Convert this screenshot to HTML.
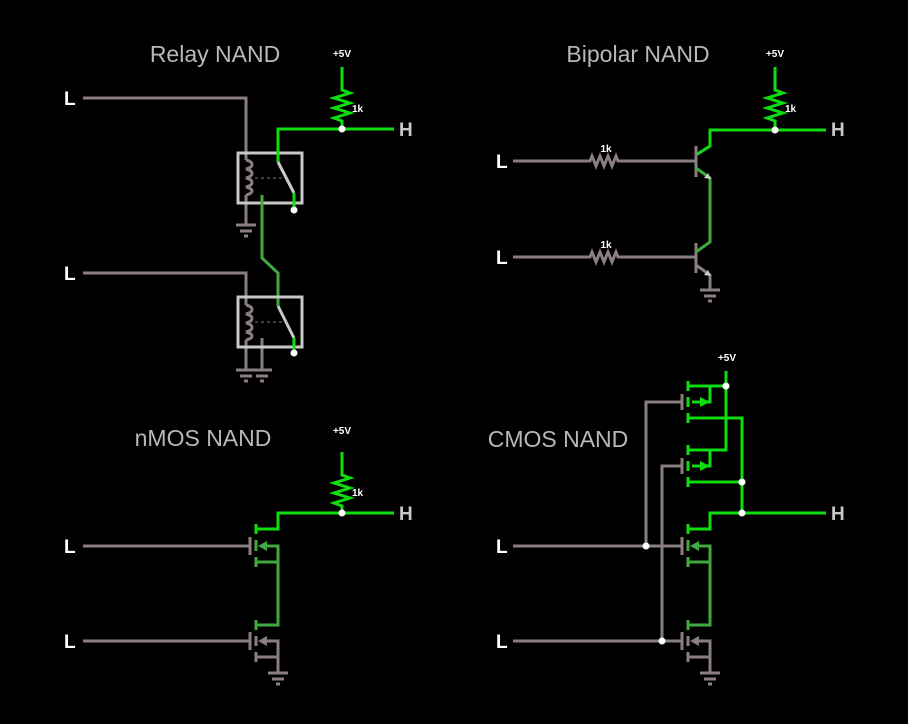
<!DOCTYPE html>
<html><head><meta charset="utf-8"><style>
html,body{margin:0;padding:0;background:#000;}
svg{display:block;}
text{font-family:"Liberation Sans",sans-serif;}
.t{fill:#b8b8b8;font-size:23px;}
.l{fill:#fff;font-size:19px;font-weight:bold;}
.h{fill:#c8c8c8;font-size:19px;font-weight:bold;}
.s{fill:#fff;font-size:10px;font-weight:bold;}
.g{stroke:#8a7e7e;}
.G{stroke:#10dd10;}
.d{stroke:#3faa3f;}
</style></head><body>
<svg width="908" height="724" viewBox="0 0 908 724" xmlns="http://www.w3.org/2000/svg">
<text class="t" x="215" y="62" text-anchor="middle">Relay NAND</text>
<text class="t" x="638" y="62" text-anchor="middle">Bipolar NAND</text>
<text class="t" x="203" y="446" text-anchor="middle">nMOS NAND</text>
<text class="t" x="558" y="447" text-anchor="middle">CMOS NAND</text>
<text class="l" x="64" y="105">L</text>
<text class="l" x="64" y="280">L</text>
<text class="l" x="64" y="553">L</text>
<text class="l" x="64" y="648">L</text>
<text class="l" x="496" y="168">L</text>
<text class="l" x="496" y="264">L</text>
<text class="l" x="496" y="553">L</text>
<text class="l" x="496" y="648">L</text>
<text class="h" x="399" y="136">H</text>
<text class="h" x="831" y="136">H</text>
<text class="h" x="399" y="520">H</text>
<text class="h" x="831" y="520">H</text>
<text class="s" x="342" y="57" text-anchor="middle">+5V</text>
<text class="s" x="775" y="57" text-anchor="middle">+5V</text>
<text class="s" x="342" y="434" text-anchor="middle">+5V</text>
<text class="s" x="727" y="361" text-anchor="middle">+5V</text>
<text class="s" x="352" y="112">1k</text>
<text class="s" x="785" y="112">1k</text>
<text class="s" x="352" y="496">1k</text>
<text class="s" x="606" y="152" text-anchor="middle">1k</text>
<text class="s" x="606" y="248" text-anchor="middle">1k</text>

<g fill="none" stroke-width="3">
<!-- RELAY -->
<path class="g" d="M83 98H246V160M246 195V225"/>
<path class="g" d="M246 160c8 2 8 7 0 9c8 2 8 7 0 9c8 2 8 7 0 9c8 2 8 6 0 8"/>
<rect x="238" y="153" width="64" height="50" stroke="#c8c8c8"/>
<path d="M255 178H282" stroke="#555" stroke-width="1.5" stroke-dasharray="3,3"/>
<path class="G" d="M342 67V90l8 3-16 5 16 5-16 5 16 5-16 5 8 3V129M278 162V129H394"/>
<path d="M278 162L294 193" stroke="#c8c8c8"/>
<path class="G" d="M294 193V210"/>
<path class="d" d="M262 195V258L278 273V306"/>
<path d="M236 225H256M240 231H252M244 236H248M236 370H256M240 376H252M244 381H248M252 370H272M256 376H268M260 381H264" class="g"/>
<path class="g" d="M83 273H246V305M246 340V370M262 338V370"/>
<path class="g" d="M246 305c8 2 8 7 0 9c8 2 8 7 0 9c8 2 8 7 0 9c8 2 8 6 0 8"/>
<rect x="238" y="297" width="64" height="50" stroke="#c8c8c8"/>
<path d="M255 322H282" stroke="#555" stroke-width="1.5" stroke-dasharray="3,3"/>
<path d="M278 306L294 338" stroke="#c8c8c8"/>
<path class="G" d="M294 338V353"/>

<!-- BIPOLAR -->
<path class="G" d="M775 67V90l8 3-16 5 16 5-16 5 16 5-16 5 8 3V130M696 155L710 146V130H826"/>
<path class="g" d="M513 161H590l2-5 4 10 4-10 4 10 4-10 4 10 4-10 2 5H696M696 146V177"/>
<path class="g" d="M513 257H590l2-5 4 10 4-10 4 10 4-10 4 10 4-10 2 5H696M696 243V273"/>
<path class="d" d="M696 168L710 178V242L696 252"/>
<path class="g" d="M696 265L710 275V290M700 290H720M704 296H716M708 301H712"/>
<path d="M711 179l-7-1 4-5z M711 276l-7-1 4-5z" fill="#ccc" stroke="none"/>

<!-- nMOS -->
<path class="G" d="M342 452V475l8 3-16 5 16 5-16 5 16 5-16 5 8 3V513H394M256 529H278V513H342M256 524V534"/>
<path class="g" d="M83 546H250M250 537V555M83 641H250M250 632V650"/>
<path class="d" d="M256 540V551M256 557V567M256 562H278V546H262M278 546V625H256M256 620V630"/>
<path class="g" d="M256 636V646M256 652V662M256 657H278V641H262M278 641V673M268 673H288M272 679H284M276 684H280"/>
<path d="M258 546l9-5v10z" fill="#3faa3f" stroke="none"/>
<path d="M258 641l9-5v10z" fill="#8a7e7e" stroke="none"/>

<!-- CMOS -->
<path class="g" d="M513 546H682M682 537V555M513 641H682M682 632V650M646 546V402H682M682 394V410M662 641V466H682M682 458V474"/>
<path class="G" d="M726 371V450H688M688 445V455M688 461V471M688 477V487M688 482H742M688 386H726M688 381V391M688 397V407M688 413V423M688 418H742V513M710 386V402H692M710 450V466H692M826 513H710V529H688M688 524V534"/>
<path class="d" d="M688 540V551M688 557V567M688 562H710V546H694M710 546V625H688M688 620V630"/>
<path class="g" d="M688 636V646M688 652V662M688 657H710V641H694M710 641V673M700 673H720M704 679H716M708 684H712"/>
<path d="M710 402l-10-5v10zM710 466l-10-5v10z" fill="#10dd10" stroke="none"/>
<path d="M690 546l9-5v10z" fill="#3faa3f" stroke="none"/>
<path d="M690 641l9-5v10z" fill="#8a7e7e" stroke="none"/>
</g>
<g fill="#fff">
<circle cx="342" cy="129" r="3.5"/><circle cx="294" cy="210" r="3.5"/><circle cx="294" cy="353" r="3.5"/>
<circle cx="775" cy="130" r="3.5"/><circle cx="342" cy="513" r="3.5"/>
<circle cx="726" cy="386" r="3.5"/><circle cx="742" cy="482" r="3.5"/><circle cx="742" cy="513" r="3.5"/>
<circle cx="646" cy="546" r="3.5"/><circle cx="662" cy="641" r="3.5"/>
</g>
</svg>
</body></html>
